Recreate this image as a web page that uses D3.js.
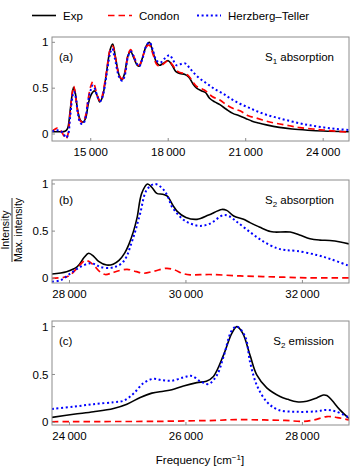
<!DOCTYPE html>
<html>
<head>
<meta charset="utf-8">
<script src="https://cdn.jsdelivr.net/npm/d3@7"></script>
<style>
  html, body { margin: 0; padding: 0; background: #fff; }
  svg { display: block; font-family: "Liberation Sans", Arial, sans-serif; }
</style>
</head>
<body>
<svg id="chart"></svg>
<script>
// spectra: [frequency in cm-1, normalised intensity]
const s1Exp = [[13500,0.025],[13800,0.025],[14000,0.03],[14100,0.06],[14200,0.25],[14300,0.47],[14340,0.51],[14400,0.45],[14500,0.25],[14600,0.15],[14700,0.13],[14800,0.17],[14900,0.32],[15000,0.42],[15150,0.47],[15250,0.42],[15350,0.35],[15450,0.40],[15600,0.65],[15750,0.92],[15850,0.98],[15950,0.85],[16100,0.64],[16200,0.59],[16300,0.65],[16450,0.86],[16550,0.90],[16650,0.84],[16800,0.75],[16880,0.74],[17000,0.83],[17150,0.96],[17270,1.0],[17400,0.9],[17550,0.78],[17660,0.75],[17800,0.77],[18000,0.80],[18150,0.75],[18300,0.68],[18450,0.66],[18650,0.65],[18800,0.62],[18950,0.55],[19100,0.5],[19300,0.47],[19450,0.45],[19600,0.39],[19800,0.35],[20000,0.32],[20250,0.27],[20500,0.225],[20750,0.2],[21000,0.17],[21250,0.14],[21500,0.12],[21800,0.1],[22300,0.073],[22800,0.055],[23400,0.042],[24000,0.033],[25000,0.025]];
const s1Condon = [[13500,0.03],[13600,0.05],[13700,0.065],[13800,0.05],[13900,0.01],[14000,-0.04],[14050,-0.05],[14120,0.0],[14200,0.22],[14300,0.48],[14340,0.52],[14400,0.44],[14500,0.24],[14600,0.14],[14700,0.13],[14800,0.2],[14900,0.38],[15000,0.52],[15080,0.57],[15150,0.53],[15250,0.42],[15370,0.36],[15450,0.42],[15600,0.66],[15750,0.92],[15850,0.96],[15950,0.84],[16100,0.64],[16220,0.60],[16320,0.66],[16450,0.87],[16550,0.92],[16650,0.86],[16800,0.76],[16880,0.75],[17000,0.83],[17150,0.95],[17270,0.97],[17400,0.88],[17550,0.76],[17650,0.74],[17800,0.76],[18000,0.80],[18150,0.76],[18300,0.70],[18450,0.67],[18650,0.66],[18800,0.63],[18950,0.57],[19100,0.52],[19400,0.48],[19700,0.41],[20000,0.37],[20250,0.32],[20500,0.28],[20800,0.25],[21100,0.2],[21400,0.175],[21800,0.14],[22200,0.115],[22700,0.09],[23100,0.07],[23600,0.055],[24000,0.044],[24500,0.03],[25000,0.02]];
const s1HT = [[13500,0.03],[13700,0.04],[13850,0.03],[13950,0.0],[14050,-0.04],[14130,0.0],[14200,0.18],[14300,0.42],[14350,0.46],[14420,0.40],[14500,0.23],[14600,0.12],[14700,0.11],[14800,0.18],[14900,0.36],[15000,0.48],[15080,0.53],[15170,0.49],[15270,0.4],[15380,0.36],[15470,0.42],[15600,0.62],[15750,0.88],[15830,0.93],[15930,0.83],[16100,0.62],[16220,0.58],[16320,0.64],[16450,0.85],[16560,0.90],[16660,0.85],[16800,0.76],[16880,0.74],[17000,0.82],[17150,0.96],[17280,1.0],[17400,0.92],[17550,0.8],[17700,0.78],[17850,0.82],[18050,0.86],[18200,0.8],[18320,0.75],[18450,0.76],[18650,0.77],[18800,0.73],[18950,0.68],[19200,0.61],[19500,0.55],[19800,0.49],[20130,0.44],[20450,0.38],[20775,0.33],[21100,0.29],[21420,0.25],[21800,0.21],[22190,0.18],[22600,0.15],[23090,0.117],[23500,0.095],[24000,0.073],[24500,0.055],[25000,0.044]];

const s2AbsExp = [[27700,0.046],[27950,0.07],[28130,0.12],[28250,0.22],[28330,0.265],[28420,0.23],[28500,0.18],[28640,0.14],[28750,0.15],[28850,0.19],[28950,0.27],[29020,0.36],[29100,0.5],[29160,0.64],[29240,0.9],[29340,1.0],[29420,0.96],[29500,0.9],[29600,0.89],[29680,0.87],[29780,0.77],[29850,0.71],[30000,0.645],[30190,0.625],[30390,0.67],[30615,0.73],[30700,0.72],[30820,0.66],[30990,0.625],[31100,0.59],[31270,0.54],[31450,0.495],[31530,0.49],[31790,0.49],[31950,0.46],[32130,0.42],[32300,0.405],[32470,0.40],[32650,0.385],[32800,0.365]];
const s2AbsCondon = [[27700,0.0],[27900,0.01],[28000,0.03],[28130,0.106],[28270,0.19],[28330,0.18],[28414,0.14],[28520,0.07],[28614,0.04],[28720,0.055],[28815,0.075],[28990,0.095],[29150,0.07],[29272,0.053],[29450,0.075],[29672,0.106],[29800,0.09],[29950,0.05],[30072,0.037],[30415,0.04],[30930,0.025],[31500,0.015],[32073,0.005],[32800,0.005]];
const s2AbsHT = [[27700,-0.036],[27850,-0.02],[28014,0.05],[28186,0.12],[28357,0.16],[28450,0.145],[28528,0.12],[28700,0.11],[28800,0.125],[28900,0.16],[28980,0.23],[29043,0.335],[29130,0.5],[29215,0.69],[29329,0.94],[29472,1.0],[29615,0.94],[29700,0.85],[29758,0.76],[29958,0.62],[30100,0.575],[30243,0.555],[30415,0.58],[30643,0.67],[30750,0.655],[30872,0.6],[31100,0.49],[31329,0.39],[31558,0.32],[31700,0.3],[31901,0.29],[32244,0.247],[32500,0.2],[32805,0.13]];

const s2EmExp = [[23700,0.052],[24071,0.084],[24414,0.11],[24757,0.145],[24986,0.19],[25215,0.26],[25415,0.305],[25615,0.325],[25758,0.34],[25958,0.38],[26187,0.415],[26350,0.43],[26472,0.48],[26643,0.70],[26787,0.93],[26873,1.0],[26976,0.93],[27101,0.70],[27216,0.495],[27388,0.36],[27616,0.27],[27750,0.24],[27902,0.215],[28074,0.22],[28245,0.255],[28359,0.285],[28420,0.28],[28503,0.233],[28645,0.13],[28800,0.04]];
const s2EmCondon = [[23700,0.006],[24500,0.008],[25500,0.01],[26000,0.015],[26500,0.02],[26850,0.028],[27300,0.025],[27700,0.02],[28000,0.01],[28200,0.025],[28420,0.06],[28600,0.05],[28800,0.025]];
const s2EmHT = [[23700,0.14],[24071,0.163],[24414,0.19],[24757,0.21],[24928,0.225],[25100,0.30],[25271,0.41],[25443,0.455],[25586,0.44],[25758,0.435],[25958,0.47],[26101,0.485],[26243,0.43],[26386,0.40],[26530,0.49],[26643,0.68],[26787,0.96],[26873,1.0],[27015,0.9],[27101,0.63],[27216,0.39],[27388,0.215],[27587,0.13],[27902,0.11],[28245,0.115],[28416,0.13],[28588,0.11],[28805,0.048]];

// axis ticks
const s1Ticks = [15000, 18000, 21000, 24000];
const s2AbsTicks = [28000, 30000, 32000];
const s2EmTicks = [24000, 26000, 28000];
const yTicks = [0, 0.5, 1];
const yTickLabels = ["0", "0.5", "1"];

const seriesNames = ["Exp", "Condon", "Herzberg\u2013Teller"];

const width = 350, height = 471;
const svg = d3.select("#chart").attr("width", width).attr("height", height);

const left = 52, right = 349;
const frameColor = "#8c8c8c";
const fontSize = 11.5;

const styles = [
  { color: "#000", width: 1.6, dash: null, cap: "butt" },
  { color: "#ff0000", width: 1.7, dash: "6.5,4", cap: "butt" },
  { color: "#0000ff", width: 2, dash: "2,2.6", cap: "butt" }
];

const panels = [
  { id: "a", top: 37, bottom: 141, xDomain: [13500, 25000], yDomain: [-0.076, 1.058],
    ticks: s1Ticks, series: [s1Exp, s1Condon, s1HT], tag: "(a)", title: ["S", "1", " absorption"] },
  { id: "b", top: 180, bottom: 283, xDomain: [27700, 32800], yDomain: [-0.05, 1.042],
    ticks: s2AbsTicks, series: [s2AbsExp, s2AbsCondon, s2AbsHT], tag: "(b)", title: ["S", "2", " absorption"] },
  { id: "c", top: 321, bottom: 425, xDomain: [23700, 28800], yDomain: [-0.028, 1.059],
    ticks: s2EmTicks, series: [s2EmExp, s2EmCondon, s2EmHT], tag: "(c)", title: ["S", "2", " emission"] }
];

const fmt = v => d3.format(",")(v).replace(",", "\u2009");

panels.forEach(p => {
  const x = d3.scaleLinear().domain(p.xDomain).range([left, right]);
  const y = d3.scaleLinear().domain(p.yDomain).range([p.bottom, p.top]);
  const g = svg.append("g").attr("class", "panel-" + p.id);

  svg.append("clipPath").attr("id", "clip-" + p.id)
    .append("rect")
    .attr("x", left).attr("y", p.top)
    .attr("width", right - left).attr("height", p.bottom - p.top);

  // curves
  const line = d3.line()
    .x(d => x(d[0]))
    .y(d => y(d[1]))
    .curve(d3.curveCatmullRom.alpha(0.5));

  const curves = g.append("g").attr("clip-path", `url(#clip-${p.id})`);
  p.series.forEach((s, i) => {
    curves.append("path")
      .datum(s)
      .attr("fill", "none")
      .attr("stroke", styles[i].color)
      .attr("stroke-width", styles[i].width)
      .attr("stroke-dasharray", styles[i].dash)
      .attr("stroke-linecap", styles[i].cap)
      .attr("d", line);
  });

  // frame
  g.append("rect")
    .attr("x", left).attr("y", p.top)
    .attr("width", right - left).attr("height", p.bottom - p.top)
    .attr("fill", "none").attr("stroke", frameColor).attr("stroke-width", 1);

  // x ticks (inward) + labels
  g.selectAll(".xtick").data(p.ticks).enter().append("line")
    .attr("x1", d => x(d)).attr("x2", d => x(d))
    .attr("y1", p.bottom).attr("y2", p.bottom - 3)
    .attr("stroke", frameColor);
  g.selectAll(".xlab").data(p.ticks).enter().append("text")
    .attr("x", d => x(d)).attr("y", p.bottom + 15)
    .attr("text-anchor", "middle")
    .attr("font-size", fontSize)
    .text(d => fmt(d));

  // y ticks (inward) + labels
  g.selectAll(".ytick").data(yTicks).enter().append("line")
    .attr("x1", left).attr("x2", left + 3)
    .attr("y1", d => y(d)).attr("y2", d => y(d))
    .attr("stroke", frameColor);
  g.selectAll(".ylab").data(yTicks).enter().append("text")
    .attr("x", left - 3.5).attr("y", d => y(d))
    .attr("dy", "0.35em")
    .attr("text-anchor", "end")
    .attr("font-size", fontSize)
    .text((d, i) => yTickLabels[i]);

  // panel tags and titles
  g.append("text")
    .attr("x", left + 7).attr("y", p.top + 24)
    .attr("font-size", fontSize)
    .text(p.tag);

  const t = g.append("text")
    .attr("x", right - 15).attr("y", p.top + 24)
    .attr("text-anchor", "end")
    .attr("font-size", fontSize);
  t.append("tspan").text(p.title[0]);
  t.append("tspan").attr("font-size", 8).attr("dy", 3).text(p.title[1]);
  t.append("tspan").attr("dy", -3).text(p.title[2]);
});

// legend
const legendX = [32, 108, 197];
const legend = svg.append("g").attr("class", "legend");
seriesNames.forEach((name, i) => {
  legend.append("line")
    .attr("x1", legendX[i]).attr("x2", legendX[i] + 24)
    .attr("y1", 15.5).attr("y2", 15.5)
    .attr("stroke", styles[i].color)
    .attr("stroke-width", styles[i].width)
    .attr("stroke-dasharray", styles[i].dash);
  legend.append("text")
    .attr("x", legendX[i] + 31).attr("y", 15.5)
    .attr("dy", "0.35em")
    .attr("font-size", fontSize)
    .text(name);
});

// axis titles
const xt = svg.append("text")
  .attr("x", 200).attr("y", 464)
  .attr("text-anchor", "middle")
  .attr("font-size", fontSize);
xt.append("tspan").text("Frequency [cm");
xt.append("tspan").attr("font-size", 8).attr("dy", -4).text("\u22121");
xt.append("tspan").attr("dy", 4).text("]");

const yl = svg.append("g").attr("transform", "translate(12,230) rotate(-90)");
yl.append("text").attr("x", 0).attr("y", -3)
  .attr("text-anchor", "middle").attr("font-size", 10.5)
  .text("Intensity");
yl.append("line").attr("x1", -32).attr("x2", 32).attr("y1", 0).attr("y2", 0)
  .attr("stroke", "#000").attr("stroke-width", 0.8);
yl.append("text").attr("x", 0).attr("y", 10)
  .attr("text-anchor", "middle").attr("font-size", 10.5)
  .text("Max. intensity");
</script>
</body>
</html>
